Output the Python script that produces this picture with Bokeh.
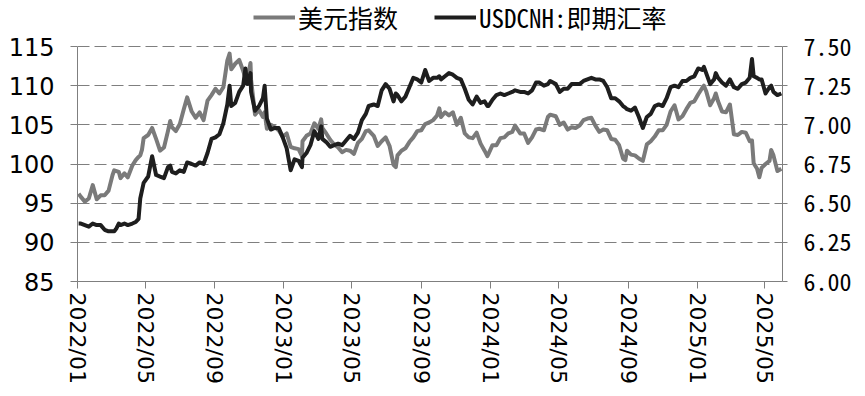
import pandas as pd
from bokeh.plotting import figure
from bokeh.models import (Range1d, LinearAxis, FixedTicker, DatetimeTickFormatter,
                          Legend, LegendItem, NumeralTickFormatter, ColumnDataSource)
from bokeh.embed import file_html
from bokeh.resources import INLINE

# ---------------- data ----------------
dates = [
    "2022-01-03", "2022-01-07", "2022-01-14", "2022-01-21", "2022-01-28", "2022-02-04", "2022-02-11",
    "2022-02-18", "2022-02-25", "2022-03-04", "2022-03-07", "2022-03-11", "2022-03-15", "2022-03-18",
    "2022-03-25", "2022-03-31", "2022-04-08", "2022-04-14", "2022-04-19", "2022-04-22", "2022-04-25",
    "2022-04-28", "2022-05-06", "2022-05-13", "2022-05-20", "2022-05-27", "2022-06-03", "2022-06-10",
    "2022-06-14", "2022-06-17", "2022-06-24", "2022-07-01", "2022-07-08", "2022-07-14", "2022-07-22",
    "2022-07-29", "2022-08-05", "2022-08-12", "2022-08-19", "2022-08-26", "2022-09-02", "2022-09-09",
    "2022-09-16", "2022-09-23", "2022-09-27", "2022-09-30", "2022-10-07", "2022-10-14", "2022-10-21",
    "2022-10-25", "2022-10-28", "2022-11-03", "2022-11-04", "2022-11-11", "2022-11-18", "2022-11-25",
    "2022-11-28", "2022-12-02", "2022-12-09", "2022-12-16", "2022-12-23", "2022-12-30",
    "2023-01-06", "2023-01-13", "2023-01-20", "2023-01-27", "2023-02-02", "2023-02-03", "2023-02-10",
    "2023-02-17", "2023-02-24", "2023-03-03", "2023-03-08", "2023-03-10", "2023-03-17", "2023-03-24",
    "2023-03-31", "2023-04-07", "2023-04-14", "2023-04-21", "2023-04-28", "2023-05-05", "2023-05-12",
    "2023-05-19", "2023-05-26", "2023-05-31", "2023-06-09", "2023-06-16", "2023-06-23", "2023-06-30",
    "2023-07-07", "2023-07-14", "2023-07-18", "2023-07-21", "2023-07-28", "2023-08-04", "2023-08-11",
    "2023-08-18", "2023-08-25", "2023-09-01", "2023-09-08", "2023-09-15", "2023-09-22", "2023-09-29",
    "2023-10-03", "2023-10-06", "2023-10-13", "2023-10-20", "2023-10-27", "2023-11-03", "2023-11-10",
    "2023-11-17", "2023-11-24", "2023-12-01", "2023-12-08", "2023-12-15", "2023-12-22", "2023-12-27",
    "2023-12-29",
    "2024-01-05", "2024-01-12", "2024-01-19", "2024-01-26", "2024-02-02", "2024-02-09", "2024-02-14",
    "2024-02-23", "2024-03-01", "2024-03-08", "2024-03-15", "2024-03-22", "2024-03-28", "2024-04-05",
    "2024-04-12", "2024-04-16", "2024-04-26", "2024-05-03", "2024-05-10", "2024-05-17", "2024-05-24",
    "2024-05-31", "2024-06-07", "2024-06-14", "2024-06-21", "2024-06-28", "2024-07-05", "2024-07-12",
    "2024-07-19", "2024-07-26", "2024-08-02", "2024-08-09", "2024-08-16", "2024-08-23", "2024-08-27",
    "2024-08-30", "2024-09-06", "2024-09-13", "2024-09-20", "2024-09-27", "2024-10-04", "2024-10-11",
    "2024-10-18", "2024-10-25", "2024-11-01", "2024-11-08", "2024-11-15", "2024-11-22", "2024-11-29",
    "2024-12-06", "2024-12-13", "2024-12-20", "2024-12-27",
    "2025-01-03", "2025-01-10", "2025-01-13", "2025-01-17", "2025-01-24", "2025-01-31", "2025-02-03",
    "2025-02-07", "2025-02-14", "2025-02-21", "2025-02-28", "2025-03-07", "2025-03-14", "2025-03-21",
    "2025-03-28", "2025-04-04", "2025-04-08", "2025-04-11", "2025-04-17", "2025-04-21", "2025-04-25",
    "2025-05-02", "2025-05-09", "2025-05-12", "2025-05-16", "2025-05-23", "2025-05-30",
]

dxy = [
    96.2, 95.8, 95.2, 95.6, 97.3, 95.5, 96.0, 96.0, 96.6, 98.6, 99.2, 99.1, 99.0, 98.2,
    98.8, 98.3, 99.8, 100.5, 100.9, 101.1, 101.8, 103.3, 103.7, 104.6, 103.2, 101.7, 102.1, 104.2,
    105.5, 104.7, 104.2, 105.1, 107.0, 108.5, 106.7, 105.9, 106.6, 105.6, 108.1, 108.8, 109.6, 109.0,
    109.8, 113.2, 114.1, 112.1, 112.8, 113.3, 111.9, 111.0, 110.7, 112.9, 110.8, 106.3, 106.9, 106.0,
    106.6, 104.5, 105.0, 104.7, 104.3, 103.5,
    103.9, 102.2, 102.0, 101.9, 101.0, 102.9, 103.6, 103.9, 105.2, 104.5, 105.7, 104.6, 103.9, 103.1,
    102.5, 102.1, 101.5, 101.8, 101.7, 101.3, 102.7, 103.2, 104.2, 104.3, 103.6, 102.3, 102.9, 103.4,
    102.3, 99.9, 99.6, 101.1, 101.7, 102.0, 102.8, 103.4, 104.2, 104.3, 105.1, 105.3, 105.6, 106.2,
    107.1, 106.0, 106.6, 106.2, 106.6, 105.0, 105.9, 103.9, 103.4, 103.3, 104.0, 102.6, 101.7, 101.0,
    101.3,
    102.4, 102.4, 103.3, 103.4, 103.9, 104.1, 104.9, 103.9, 103.9, 102.7, 103.4, 104.4, 104.5, 104.3,
    106.0, 106.3, 106.1, 105.0, 105.3, 104.4, 104.7, 104.6, 104.9, 105.6, 105.8, 105.9, 104.9, 104.1,
    104.4, 104.3, 103.2, 103.1, 102.4, 100.7, 100.5, 101.7, 101.2, 101.1, 100.7, 100.4, 102.5, 102.9,
    103.5, 104.3, 104.3, 105.0, 106.7, 107.5, 105.7, 106.1, 107.0, 107.8, 108.0,
    108.9, 109.7, 110.0, 109.3, 107.5, 108.4, 109.0, 108.0, 106.7, 106.6, 107.6, 103.8, 103.7, 104.1,
    104.0, 102.9, 103.0, 100.1, 99.4, 98.3, 99.5, 100.0, 100.4, 101.8, 101.1, 99.1, 99.4,
]

usdcnh = [
    6.37, 6.37, 6.36, 6.35, 6.37, 6.36, 6.36, 6.33, 6.32, 6.32, 6.32, 6.34, 6.37, 6.36,
    6.37, 6.36, 6.37, 6.38, 6.40, 6.53, 6.58, 6.63, 6.67, 6.80, 6.68, 6.67, 6.66, 6.73,
    6.74, 6.70, 6.69, 6.71, 6.70, 6.76, 6.75, 6.74, 6.76, 6.75, 6.82, 6.91, 6.92, 6.94,
    7.01, 7.13, 7.25, 7.12, 7.14, 7.21, 7.25, 7.36, 7.26, 7.33, 7.21, 7.09, 7.12, 7.17,
    7.25, 7.04, 6.97, 6.98, 6.98, 6.92,
    6.85, 6.71, 6.78, 6.77, 6.73, 6.79, 6.82, 6.87, 6.96, 6.91, 6.99, 6.91, 6.89, 6.86,
    6.87, 6.88, 6.87, 6.90, 6.93, 6.91, 6.95, 7.03, 7.07, 7.12, 7.13, 7.12, 7.22, 7.26,
    7.23, 7.15, 7.20, 7.19, 7.15, 7.18, 7.24, 7.30, 7.29, 7.27, 7.35, 7.28, 7.30, 7.30,
    7.31, 7.29, 7.31, 7.33, 7.32, 7.30, 7.29, 7.23, 7.16, 7.13, 7.18, 7.14, 7.15, 7.12,
    7.12,
    7.16, 7.19, 7.20, 7.19, 7.20, 7.21, 7.22, 7.21, 7.21, 7.20, 7.22, 7.27, 7.27, 7.25,
    7.26, 7.28, 7.26, 7.21, 7.23, 7.23, 7.26, 7.26, 7.26, 7.28, 7.29, 7.30, 7.29, 7.29,
    7.28, 7.24, 7.17, 7.17, 7.15, 7.12, 7.11, 7.10, 7.09, 7.11, 7.05, 6.98, 7.05, 7.07,
    7.12, 7.13, 7.12, 7.17, 7.24, 7.25, 7.24, 7.28, 7.28, 7.30, 7.31,
    7.36, 7.35, 7.37, 7.33, 7.26, 7.29, 7.33, 7.30, 7.27, 7.25, 7.29, 7.24, 7.23, 7.26,
    7.27, 7.30, 7.42, 7.31, 7.30, 7.29, 7.29, 7.20, 7.24, 7.25, 7.21, 7.19, 7.20,
]

left_ticks = [85, 90, 95, 100, 105, 110, 115]
right_ticks = [6.00, 6.25, 6.50, 6.75, 7.00, 7.25, 7.50]
x_tick_labels = ["2022/01", "2022/05", "2022/09", "2023/01", "2023/05", "2023/09",
                 "2024/01", "2024/05", "2024/09", "2025/01", "2025/05"]
series_names = ["美元指数", "USDCNH:即期汇率"]

# ---------------- figure ----------------
FRAME_H = 281          # frame spans the full height above the bottom axis
AXIS_H = 235           # pixel height of the 85..115 span
left_lo, left_hi = left_ticks[0], left_ticks[-1]
right_lo, right_hi = right_ticks[0], right_ticks[-1]
left_top = left_lo + (left_hi - left_lo) * FRAME_H / AXIS_H
right_top = right_lo + (right_hi - right_lo) * FRAME_H / AXIS_H

x = pd.to_datetime(dates)
src = ColumnDataSource(dict(x=x, dxy=dxy, cnh=usdcnh))

p = figure(width=865, height=396, output_backend="svg", toolbar_location=None,
           x_axis_type="datetime",
           x_range=Range1d(pd.Timestamp("2022-01-01"), pd.Timestamp("2025-06-01")),
           y_range=Range1d(left_lo, left_top),
           min_border_left=77, min_border_right=83, min_border_top=0, min_border_bottom=115)
p.extra_y_ranges = {"cnh": Range1d(right_lo, right_top)}
p.outline_line_color = None
p.background_fill_color = "white"
p.border_fill_color = "white"

tick_ms = [pd.Timestamp(s.replace("/", "-") + "-01").value / 1e6 for s in x_tick_labels]

GRAY_AX = "#7f7f7f"
NUM_FONT = "DejaVu Sans"
MONO_CJK = "'Noto Sans Mono CJK SC', 'Noto Sans CJK SC'"

# bottom axis
xa = p.xaxis[0]
xa.ticker = FixedTicker(ticks=tick_ms)
xa.formatter = DatetimeTickFormatter(years="%Y/%m", months="%Y/%m", days="%Y/%m",
                                     hours="%Y/%m", minutes="%Y/%m")
xa.major_label_orientation = "vertical"
xa.major_label_text_font = NUM_FONT
xa.major_label_text_font_size = "22px"
xa.major_label_text_color = "black"
xa.major_label_standoff = 4
xa.axis_line_color = GRAY_AX
xa.major_tick_line_color = GRAY_AX
xa.major_tick_out = 7
xa.major_tick_in = 0
xa.minor_tick_line_color = None

# left axis
ya = p.yaxis[0]
ya.ticker = FixedTicker(ticks=left_ticks)
ya.bounds = (left_lo, left_hi)
ya.major_label_text_font = NUM_FONT
ya.major_label_text_font_size = "24px"
ya.major_label_text_color = "black"
ya.major_label_standoff = 16
ya.axis_line_color = GRAY_AX
ya.major_tick_line_color = GRAY_AX
ya.major_tick_out = 7
ya.major_tick_in = 0
ya.minor_tick_line_color = None

# right axis
ra = LinearAxis(y_range_name="cnh", ticker=FixedTicker(ticks=right_ticks),
                formatter=NumeralTickFormatter(format="0.00"), bounds=(right_lo, right_hi))
ra.major_label_text_font = MONO_CJK
ra.major_label_text_font_size = "24px"
ra.major_label_text_color = "black"
ra.major_label_standoff = 16
ra.axis_line_color = GRAY_AX
ra.major_tick_line_color = GRAY_AX
ra.major_tick_out = 5
ra.major_tick_in = 0
ra.minor_tick_line_color = None
p.add_layout(ra, "right")

# grid
p.xgrid.grid_line_color = None
p.ygrid.ticker = FixedTicker(ticks=left_ticks)
p.ygrid.grid_line_color = GRAY_AX
p.ygrid.grid_line_dash = "12 5"
p.ygrid.grid_line_width = 1

r1 = p.line("x", "dxy", source=src, line_color="#7a7a7a", line_width=4, line_join="round")
r2 = p.line("x", "cnh", source=src, y_range_name="cnh", line_color="#1e1e1e", line_width=4,
            line_join="round")

legend = Legend(items=[LegendItem(label=series_names[0], renderers=[r1]),
                       LegendItem(label=series_names[1], renderers=[r2])],
                location=(176, 246), orientation="horizontal",
                label_text_font=MONO_CJK,
                label_text_font_size="25px",
                label_text_color="black", glyph_width=42, glyph_height=24,
                label_standoff=3, spacing=36, padding=0, margin=0,
                border_line_color=None, background_fill_alpha=0)
p.add_layout(legend, "center")

open("out.html", "w").write(file_html(p, INLINE))
